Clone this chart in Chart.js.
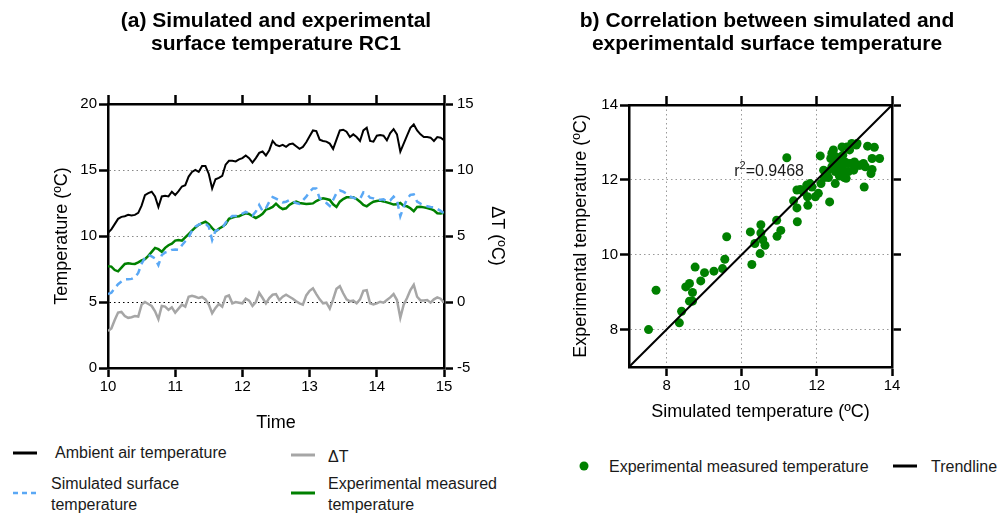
<!DOCTYPE html>
<html>
<head>
<meta charset="utf-8">
<script src="https://cdn.jsdelivr.net/npm/chart.js@4.4.0/dist/chart.umd.min.js"></script>
<style>
  body { margin: 0; background: #fff; }
  #page { position: relative; width: 1002px; height: 516px; overflow: hidden; font-family: "Liberation Sans", Arial, sans-serif; color: #1a1a1a; }
  canvas { position: absolute; top: 0; }
  .lg { position: absolute; font-size: 16px; line-height: 21px; white-space: nowrap; }
  .sw { position: absolute; }
</style>
</head>
<body>
<div id="page">
  <canvas id="chartA" width="552" height="440" style="left:0"></canvas>
  <canvas id="chartB" width="470" height="440" style="left:532px"></canvas>

  <!-- legend (a) -->
  <svg class="sw" style="left:13px;top:449px" width="26" height="8"><line x1="0" y1="4" x2="24" y2="4" stroke="#000" stroke-width="3"/></svg>
  <div class="lg" style="left:55px;top:442px">Ambient air temperature</div>
  <svg class="sw" style="left:291px;top:451px" width="26" height="8"><line x1="0" y1="4" x2="24" y2="4" stroke="#a6a6a6" stroke-width="3"/></svg>
  <div class="lg" style="left:328px;top:446px">ΔT</div>
  <svg class="sw" style="left:13px;top:489px" width="26" height="8"><line x1="0" y1="4" x2="24" y2="4" stroke="#5aa8f5" stroke-width="2.5" stroke-dasharray="5,4"/></svg>
  <div class="lg" style="left:51px;top:473px">Simulated surface<br>temperature</div>
  <svg class="sw" style="left:291px;top:489px" width="26" height="8"><line x1="0" y1="4" x2="24" y2="4" stroke="#008000" stroke-width="3"/></svg>
  <div class="lg" style="left:328px;top:473px">Experimental measured<br>temperature</div>

  <!-- legend (b) -->
  <svg class="sw" style="left:579px;top:461px" width="10" height="10"><circle cx="5" cy="5" r="4.5" fill="#008000"/></svg>
  <div class="lg" style="left:609px;top:456px">Experimental measured temperature</div>
  <svg class="sw" style="left:893px;top:462px" width="26" height="8"><line x1="0" y1="4" x2="24" y2="4" stroke="#000" stroke-width="3"/></svg>
  <div class="lg" style="left:931px;top:456px">Trendline</div>
</div>

<script>
// readings every 3 minutes between 10:00 and 15:00
var ambientTemp = [10.25, 10.5, 10.9, 11.3, 11.45, 11.5, 11.6, 11.55, 11.6, 11.75,
  12.3, 13.1, 13.25, 13.35, 13.0, 12.2, 13.0, 13.05, 13.0, 13.35,
  13.1, 13.4, 13.75, 13.85, 14.5, 14.85, 15.0, 14.85, 15.3, 15.3,
  14.7, 13.6, 14.3, 14.4, 14.55, 15.4, 15.7, 15.7, 15.65, 15.8,
  15.9, 16.1, 15.9, 15.56, 15.9, 16.3, 16.4, 16.1, 16.5, 17.2,
  16.9, 16.8, 16.9, 16.75, 16.95, 17.0, 16.8, 16.6, 16.75, 17.1,
  17.55, 18.0, 17.95, 17.3, 17.2, 17.15, 17.0, 16.6, 17.3, 18.0,
  18.05, 17.9, 17.5, 17.7, 17.5, 17.2, 18.0, 18.2, 17.2, 17.15,
  17.6, 17.65, 17.6, 17.25, 17.8, 18.1, 17.7, 16.4, 17.0, 17.6,
  18.2, 18.45, 18.0, 17.7, 17.5, 17.5, 17.45, 17.2, 17.5, 17.45,
  17.25];

var simTemp = [5.6, 5.7, 6.04, 6.35, 6.55, 6.72, 6.72, 6.75, 6.87, 7.2,
  7.9, 8.35, 8.56, 8.46, 8.3, 7.8, 8.55, 8.75, 8.82, 8.95,
  8.98, 8.95, 9.3, 9.6, 9.9, 10.4, 10.7, 10.86, 10.97, 10.95,
  10.7, 9.7, 10.4, 10.48, 10.6, 11.0, 11.3, 11.52, 11.52, 11.6,
  11.7, 11.82, 11.7, 11.55, 11.85, 12.35, 11.9, 12.1, 12.6, 12.95,
  12.83, 12.7, 12.55, 12.6, 12.72, 12.6, 12.5, 12.43, 12.7, 12.98,
  13.35, 13.6, 13.6, 12.85, 12.7, 12.5, 12.27, 12.73, 13.25, 13.45,
  13.36, 13.2, 13.0, 12.9, 12.82, 12.8, 13.3, 13.2, 12.9, 12.85,
  12.75, 12.75, 12.78, 12.6, 12.7, 12.98, 12.72, 11.5, 12.2, 12.8,
  13.12, 13.15, 12.6, 12.45, 12.35, 12.25, 12.2, 12.17, 12.05, 11.9,
  11.72];

var expTemp = [7.7, 7.68, 7.42, 7.32, 7.6, 7.88, 7.93, 7.9, 7.88, 8.0,
  8.15, 8.25, 8.5, 8.8, 9.1, 9.0, 8.8, 9.1, 9.3, 9.42,
  9.65, 9.7, 9.65, 9.9, 10.15, 10.4, 10.65, 10.85, 10.98, 11.08,
  10.9, 10.6, 10.35, 10.55, 10.7, 10.9, 11.3, 11.4, 11.47, 11.5,
  11.62, 11.72, 11.67, 11.5, 11.36, 11.5, 11.68, 12.0, 12.07, 12.2,
  12.45, 12.2, 12.04, 12.1, 12.35, 12.5, 12.6, 12.5, 12.46, 12.42,
  12.45, 12.47, 12.65, 12.78, 12.85, 12.8, 12.73, 12.4, 12.2, 12.6,
  12.8, 12.93, 12.93, 12.93, 12.8, 12.6, 12.35, 12.25, 12.45, 12.6,
  12.65, 12.68, 12.62, 12.55, 12.47, 12.38, 12.4, 12.5, 12.28, 12.25,
  12.1, 11.88, 12.2, 12.22, 12.17, 12.12, 12.05, 11.95, 11.72, 11.7,
  11.77];

var deltaT = [-2.2, -2.0, -1.36, -0.8, -0.75, -1.06, -1.2, -1.15, -1.06, -1.1,
  -0.2, 0.0, -0.15, -0.3, -0.7, -1.3, -0.3, -0.35, -0.6, -0.4,
  -0.8, -0.5, -0.2, -0.35, 0.4, 0.47, 0.4, 0.3, 0.38, 0.2,
  -0.2, -0.85, -0.45, -0.15, -0.35, 0.4, 0.5, -0.1, 0.0, -0.05,
  -0.1, 0.25, 0.1, -0.3, 0.0, 0.7, 0.3, -0.1, 0.3, 0.55,
  0.6, 0.15, 0.4, 0.55, 0.4, 0.25, 0.05, -0.1, -0.2, 0.5,
  0.85, 1.04, 0.6, 0.2, -0.1, -0.05, -0.5, 0.2, 1.0, 1.2,
  0.66, 0.2, 0.05, 0.1, -0.1, 0.2, 0.85, 0.9, -0.1, -0.18,
  -0.1, 0.02, -0.05, 0.15, 0.35, 0.6, 0.15, -1.2, -0.2, 0.3,
  0.9, 1.3, 0.4, 0.12, 0.12, 0.15, -0.05, 0.2, 0.35, 0.25,
  -0.05];

var startHour = 10;
var stepMinutes = 3;
var times = ambientTemp.map(function(v, i) { return startHour + i * stepMinutes / 60; });

// correlation panel: simulated (x) vs experimental (y)
var corrSim = [7.52, 7.72, 8.34, 8.40, 8.51, 8.61, 8.61, 8.69, 8.69, 8.76,
  8.91, 9.01, 9.26, 9.49, 9.55, 9.60, 10.23, 10.27, 10.35, 10.49,
  10.51, 10.51, 10.56, 10.62, 10.93, 10.94, 11.04, 11.20, 11.38, 11.47,
  11.47, 11.48, 11.56, 11.64, 11.73, 11.75, 11.76, 11.82, 11.87, 11.96,
  12.04, 12.09, 12.11, 12.18, 12.20, 12.27, 12.34, 12.37, 12.40, 12.44,
  12.46, 12.49, 12.51, 12.53, 12.58, 12.60, 12.64, 12.67, 12.69, 12.71,
  12.73, 12.75, 12.78, 12.80, 12.82, 12.84, 12.87, 12.89, 12.93, 12.98,
  13.00, 13.05, 13.07, 13.11, 13.15, 13.24, 13.26, 13.29, 13.35, 13.44,
  13.47, 13.47, 13.53, 13.67, 12.49, 12.40, 12.31, 12.67];
var corrExp = [8.00, 9.05, 8.18, 8.49, 9.14, 9.23, 8.76, 8.99, 8.76, 9.67,
  9.30, 9.52, 9.56, 9.63, 9.88, 10.48, 10.61, 9.74, 10.30, 10.03,
  10.80, 10.58, 10.40, 10.25, 10.92, 10.49, 10.65, 12.59, 11.44, 11.73,
  11.25, 10.88, 11.74, 11.68, 11.86, 11.55, 11.32, 11.90, 11.81, 11.55,
  11.64, 12.64, 11.90, 12.26, 12.06, 12.22, 11.41, 12.57, 12.71, 12.80,
  12.48, 11.90, 12.62, 12.35, 12.57, 12.10, 12.39, 12.88, 12.66, 12.26,
  12.06, 12.48, 12.04, 12.88, 12.44, 12.22, 12.80, 12.44, 12.97, 12.26,
  12.48, 12.93, 12.97, 12.39, 12.39, 12.44, 11.81, 12.35, 12.90, 12.17,
  12.28, 12.57, 12.87, 12.57, 12.22, 12.35, 12.06, 12.22];
var trendX = [7, 14];
var trendY = [7, 14];
var corrTicks = [8, 10, 12, 14];
var r2Value = '0.9468';

var FONT = '"Liberation Sans", Arial, sans-serif';
Chart.defaults.font.family = FONT;
Chart.defaults.color = '#000';

// shared look for the boxed axes (thick frame, outward ticks)
function tickGrid(onArea, colorFn) {
    return {
        drawOnChartArea: onArea,
        color: colorFn || '#999',
        lineWidth: 1,
        tickLength: 9,
        tickWidth: 2.5,
        tickColor: '#000'
    };
}
var frame = { color: '#000', width: 2.5, dash: [1.5, 3] };
var tickFont = { size: 15 };
var titleFont = { size: 18 };
var headFont = { size: 21, weight: 'bold', lineHeight: 1.1 };

new Chart(document.getElementById('chartA'), {
    type: 'line',
    data: {
        labels: times,
        datasets: [
            { label: 'Ambient air temperature', data: ambientTemp, borderColor: '#000', borderWidth: 2, yAxisID: 'y' },
            { label: 'Simulated surface temperature', data: simTemp, borderColor: '#5aa8f5', borderWidth: 2.5, borderDash: [7, 5], yAxisID: 'y' },
            { label: 'Experimental measured temperature', data: expTemp, borderColor: '#008000', borderWidth: 2.5, yAxisID: 'y' },
            { label: 'ΔT', data: deltaT, borderColor: '#a6a6a6', borderWidth: 2.5, yAxisID: 'y2' }
        ]
    },
    options: {
        responsive: false,
        animation: false,
        elements: { point: { radius: 0 }, line: { tension: 0 } },
        plugins: {
            legend: { display: false },
            tooltip: { enabled: false },
            title: {
                display: true,
                text: ['(a) Simulated and experimental', 'surface temperature RC1'],
                font: headFont,
                color: '#000',
                padding: { top: 10, bottom: 27.8 }
            }
        },
        scales: {
            x: {
                type: 'linear', position: 'bottom', min: 10, max: 15,
                ticks: { stepSize: 1, font: tickFont, padding: 1 },
                grid: tickGrid(false), border: frame,
                title: { display: true, text: 'Time', font: titleFont, padding: { bottom: 6 } },
                afterFit: function(s) { s.height = 72; }
            },
            x2: {
                type: 'linear', position: 'top', min: 10, max: 15,
                ticks: { stepSize: 1, display: false },
                grid: tickGrid(false), border: frame,
                afterFit: function(s) { s.height = 20; }
            },
            y: {
                position: 'left', min: 0, max: 20,
                ticks: { stepSize: 5, font: tickFont, padding: 2 },
                grid: tickGrid(true, function(c) {
                    var v = c.tick ? c.tick.value : null;
                    if (v === 5) return '#000';
                    if (v === 10 || v === 15) return '#888';
                    return 'rgba(0,0,0,0)';
                }),
                border: frame,
                title: { display: true, text: 'Temperature (ºC)', font: titleFont, padding: { top: 51 } },
                afterFit: function(s) { s.width = 108; }
            },
            y2: {
                position: 'right', min: -5, max: 15,
                ticks: { stepSize: 5, font: tickFont, padding: 4 },
                grid: tickGrid(false), border: frame,
                title: { display: true, text: 'ΔT (ºC)', font: titleFont, padding: { top: 44 } },
                afterFit: function(s) { s.width = 108; }
            }
        }
    }
});

// r² label placed in data coordinates, with a raised "2"
var r2Label = {
    id: 'r2Label',
    afterDatasetsDraw: function(chart, args, opts) {
        var ctx = chart.ctx;
        var x = chart.scales.x.getPixelForValue(opts.x);
        var y = chart.scales.y.getPixelForValue(opts.y);
        ctx.save();
        ctx.fillStyle = '#1a1a1a';
        ctx.textBaseline = 'alphabetic';
        ctx.font = '16px ' + FONT;
        ctx.fillText('r', x, y + 6);
        x += ctx.measureText('r').width;
        ctx.font = '11px ' + FONT;
        ctx.fillText('2', x, y - 1);
        x += ctx.measureText('2').width;
        ctx.font = '16px ' + FONT;
        ctx.fillText('=' + r2Value, x, y + 6);
        ctx.restore();
    }
};

function fixedTicks(s) {
    s.ticks = corrTicks.map(function(v) { return { value: v }; });
}

new Chart(document.getElementById('chartB'), {
    type: 'scatter',
    data: {
        datasets: [
            {
                type: 'line', label: 'Trendline',
                data: trendX.map(function(x, i) { return { x: x, y: trendY[i] }; }),
                borderColor: '#000', borderWidth: 2, pointRadius: 0
            },
            {
                label: 'Experimental measured temperature',
                data: corrSim.map(function(x, i) { return { x: x, y: corrExp[i] }; }),
                backgroundColor: '#008000', borderWidth: 0, pointRadius: 4.5
            }
        ]
    },
    options: {
        responsive: false,
        animation: false,
        plugins: {
            legend: { display: false },
            tooltip: { enabled: false },
            r2Label: { x: 9.8, y: 12.27 },
            title: {
                display: true,
                text: ['b) Correlation between simulated and', 'experimentald surface temperature'],
                font: headFont,
                color: '#000',
                padding: { top: 10, bottom: 28.8 }
            }
        },
        scales: {
            x: {
                type: 'linear', position: 'bottom', min: 7, max: 14,
                afterBuildTicks: fixedTicks,
                ticks: { font: tickFont, padding: 1 },
                grid: tickGrid(true), border: frame,
                title: { display: true, text: 'Simulated temperature (ºC)', font: titleFont, padding: { bottom: 17 } },
                afterFit: function(s) { s.height = 73; }
            },
            x2: {
                type: 'linear', position: 'top', min: 7, max: 14,
                afterBuildTicks: fixedTicks,
                ticks: { display: false },
                grid: tickGrid(false), border: frame,
                afterFit: function(s) { s.height = 20; }
            },
            y: {
                type: 'linear', position: 'left', min: 7, max: 14,
                afterBuildTicks: fixedTicks,
                ticks: { font: tickFont, padding: 2 },
                grid: tickGrid(true), border: frame,
                title: { display: true, text: 'Experimental temperature (ºC)', font: titleFont, padding: { top: 38 } },
                afterFit: function(s) { s.width = 97; }
            },
            y2: {
                type: 'linear', position: 'right', min: 7, max: 14,
                afterBuildTicks: fixedTicks,
                ticks: { display: false },
                grid: tickGrid(false), border: frame,
                afterFit: function(s) { s.width = 110; }
            }
        }
    },
    plugins: [r2Label]
});
</script>
</body>
</html>
